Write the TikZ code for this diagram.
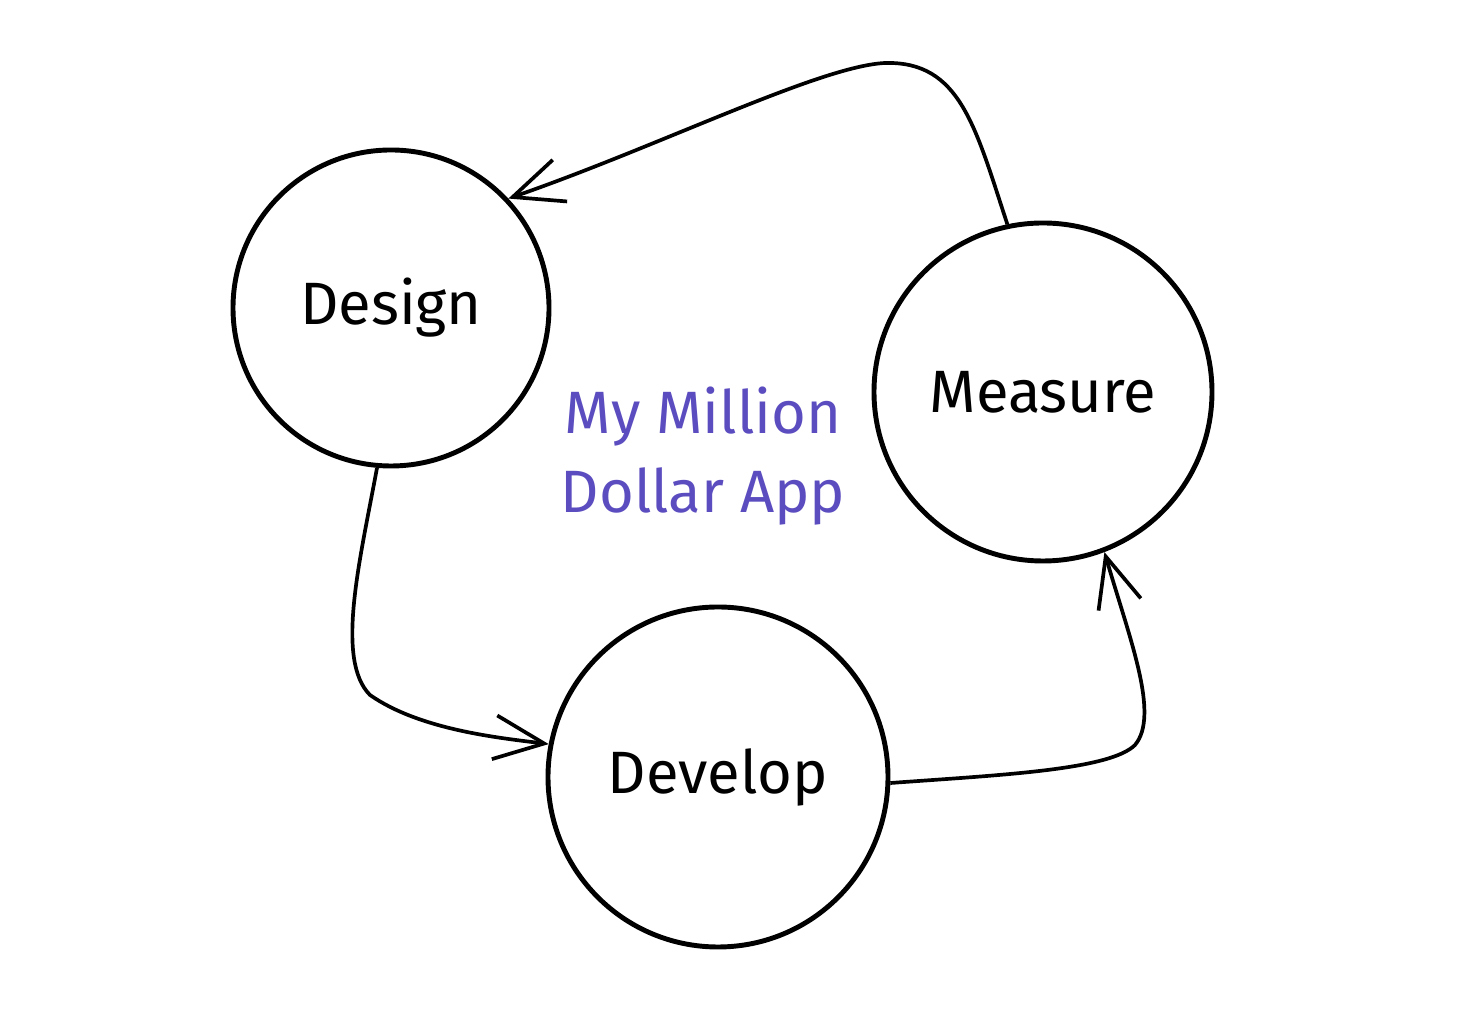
\documentclass[tikz,border=0pt]{standalone}
\usepackage{fontspec}
\setmainfont{Fira Sans}
\usetikzlibrary{arrows.meta}
\definecolor{appviolet}{HTML}{5B4DBF}
\tikzset{
  fase/.style={circle,draw,line width=1.4pt,font=\fontsize{17}{20}\selectfont},
  ciclo/.style={line width=1.05pt,-{Straight Barb[length=5mm,width=4.4mm,line width=1.05pt]}},
  titolo/.style={text=appviolet,font=\fontsize{17}{22.5}\selectfont,align=center}
}
\begin{document}
\begin{tikzpicture}
        \useasboundingbox (0,0) rectangle (14.6,10.16);

        % Le tre fasi del ciclo
        \node[fase,minimum size=3.16cm](design) at (3.91,7.08) {Design};
        \node[fase,minimum size=3.38cm](measure) at (10.43,6.24) {Measure};
        \node[fase,minimum size=3.40cm](develop) at (7.18,2.39) {Develop};

        % Titolo al centro
        \node[titolo](app) at (7.03,5.60) {My Million\\Dollar App};

        % Collegamenti tra le fasi
        \draw[ciclo] (measure.102) .. controls (9.75,8.9) and (9.6,9.55) .. (8.85,9.53)
                     .. controls (8.2,9.5) and (6.6,8.7) .. (design.43);
        \draw[ciclo] (design.265) .. controls (3.6,4.56) and (3.35,3.56) .. (3.70,3.21)
                     .. controls (4.2,2.86) and (5.0,2.78) .. (develop.169);
        \draw[ciclo] (develop.-2) .. controls (10.0,2.41) and (11.1,2.46) .. (11.35,2.71)
                     .. controls (11.6,3.01) and (11.3,3.76) .. (measure.-69);
    \end{tikzpicture}
\end{document}
